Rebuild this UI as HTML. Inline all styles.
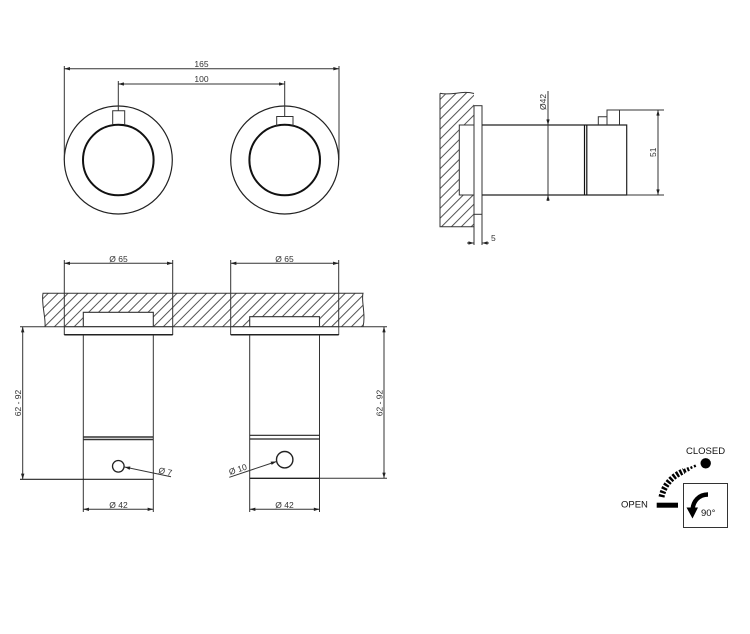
<!DOCTYPE html>
<html><head><meta charset="utf-8"><style>
html,body{margin:0;padding:0;background:#fff}
svg{display:block}
text{font-family:"Liberation Sans",sans-serif;font-size:8.5px;fill:#333}
.l{stroke:#333;stroke-width:1;fill:none}
.m{stroke:#222;stroke-width:1.2;fill:none}
.t{stroke:#111;stroke-width:2;fill:none}
.w{fill:#fff;stroke:#333;stroke-width:1.1}
</style></head><body>
<svg width="750" height="634" viewBox="0 0 750 634" xmlns="http://www.w3.org/2000/svg">
<defs>
<pattern id="h" patternUnits="userSpaceOnUse" width="7" height="7" patternTransform="rotate(-45)">
<rect width="7" height="7" fill="#fff"/><line x1="0" y1="3.5" x2="7" y2="3.5" stroke="#555" stroke-width="1"/></pattern>
<marker id="a" viewBox="0 0 10 6" refX="10" refY="3" markerWidth="6.5" markerHeight="3.4" orient="auto-start-reverse" markerUnits="userSpaceOnUse"><path d="M0 0L10 3L0 6z" fill="#222"/></marker>
</defs>

<!-- top view -->
<circle class="m" cx="118.3" cy="160" r="54"/>
<circle class="t" cx="118.3" cy="160" r="35.3"/>
<circle class="m" cx="284.7" cy="160" r="54"/>
<circle class="t" cx="284.7" cy="160" r="35.3"/>
<path class="l" d="M112.7 125V110.7H124.7V125M276.7 126V116.5H293V126"/>
<path class="l" d="M64.3 66V160M339 66V160M118.3 81V110.7M284.7 81V116"/>
<path class="l" d="M64.3 68.7H339" marker-start="url(#a)" marker-end="url(#a)"/>
<path class="l" d="M118.3 84H284.7" marker-start="url(#a)" marker-end="url(#a)"/>
<text x="201.5" y="67" text-anchor="middle">165</text>
<text x="201.5" y="82" text-anchor="middle">100</text>

<!-- side view -->
<path d="M440 93.3C452 96 462 90 474 93.5V226.7H440Z" fill="url(#h)"/>
<path class="l" d="M440 93.3C452 96 462 90 474 93.5M440 93.3V226.7H474"/>
<rect x="459.3" y="125" width="22" height="70" fill="#fff"/>
<path class="l" d="M474 125H459.3V195H474"/>
<rect class="l" x="474" y="105.7" width="8" height="108.6" style="fill:#fff"/>
<path class="m" d="M482 125H626.7V195H482"/>
<path class="t" d="M584.5 125V195" style="stroke-width:1.2"/>
<path class="t" d="M586.8 125V195" style="stroke-width:1.2"/>
<path class="l" d="M598.3 125V116.7H607M607 125V110H619.5V125"/>
<path class="l" d="M619.5 110H664M626.7 195H664"/>
<path class="l" d="M658 110V195" marker-start="url(#a)" marker-end="url(#a)"/>
<path class="l" d="M548 91V125"/>
<path class="l" d="M548 118V125" marker-end="url(#a)"/>
<path class="l" d="M548 125V195"/>
<path class="l" d="M548 201V195" marker-end="url(#a)"/>
<text transform="translate(546,110) rotate(-90)">Ø42</text>
<text transform="translate(656,157) rotate(-90)">51</text>
<path class="l" d="M474 214V245M482 214V245"/>
<path class="l" d="M467 243H474" marker-end="url(#a)"/>
<path class="l" d="M489 243H482" marker-end="url(#a)"/>
<text x="491" y="241">5</text>

<!-- front section: wall -->
<path d="M43 293.3H363C361 300 366 315 363 326.7H45C46 318 41 303 43 293.3Z" fill="url(#h)"/>
<path class="l" d="M45 326.7C46 318 41 303 43 293.3H363C361 300 366 315 363 326.7"/>
<path class="l" d="M20 326.7H83.3M153.3 326.7H249.7M319.5 326.7H387"/>

<!-- left unit -->
<path class="w" d="M83.3 326.7V312.3H153.3V326.7Z"/>
<path class="l" d="M64.3 260V335M172.7 260V335"/>
<rect x="65" y="327.2" width="107" height="7.3" fill="#fff"/>
<path class="l" d="M64.3 326.7H172.7"/>
<path class="m" d="M64.3 334.7H172.7" style="stroke-width:1.5"/>
<path class="l" d="M83.3 335V512M153.3 335V512"/>
<path class="l" d="M83.3 437H153.3" style="stroke-width:1.4"/>
<path class="l" d="M83.3 439.5H153.3" style="stroke-width:1.4"/>
<path class="m" d="M20 479.3H153.3"/>
<circle class="m" cx="118.3" cy="466.3" r="5.8" style="stroke-width:1.3"/>
<path class="l" d="M171 476.7L124.5 467" marker-end="url(#a)"/>
<text transform="translate(158,473) rotate(12)">Ø 7</text>
<path class="l" d="M64.3 263.3H172.7" marker-start="url(#a)" marker-end="url(#a)"/>
<text x="118.5" y="262" text-anchor="middle">Ø 65</text>
<path class="l" d="M83.3 509.3H153.3" marker-start="url(#a)" marker-end="url(#a)"/>
<text x="118.5" y="508" text-anchor="middle">Ø 42</text>
<path class="l" d="M22.7 326.7V479.3" marker-start="url(#a)" marker-end="url(#a)"/>
<text transform="translate(21,403) rotate(-90)" text-anchor="middle">62 - 92</text>

<!-- right unit -->
<path class="w" d="M249.7 326.7V316.7H319.5V326.7Z"/>
<path class="l" d="M230.7 260V335M338.7 260V335"/>
<rect x="231.3" y="327.2" width="107" height="7.3" fill="#fff"/>
<path class="l" d="M230.7 326.7H338.7"/>
<path class="m" d="M230.7 334.7H338.7" style="stroke-width:1.5"/>
<path class="l" d="M249.7 335V512M319.5 335V512"/>
<path class="m" d="M249.7 435.3H319.5M249.7 439H319.5"/>
<path class="m" d="M249.7 478.3H319.5" style="stroke-width:1.4"/>
<path class="l" d="M319.5 478.3H387"/>
<circle class="m" cx="284.7" cy="459.7" r="8.2" style="stroke-width:1.4"/>
<path class="l" d="M229.3 477.3L276.5 461.5" marker-end="url(#a)"/>
<text transform="translate(230,475) rotate(-18)">Ø 10</text>
<path class="l" d="M230.7 263.3H338.7" marker-start="url(#a)" marker-end="url(#a)"/>
<text x="284.5" y="262" text-anchor="middle">Ø 65</text>
<path class="l" d="M249.7 509.3H319.5" marker-start="url(#a)" marker-end="url(#a)"/>
<text x="284.5" y="508" text-anchor="middle">Ø 42</text>
<path class="l" d="M384 326.7V478.3" marker-start="url(#a)" marker-end="url(#a)"/>
<text transform="translate(382.5,403) rotate(-90)" text-anchor="middle">62 - 92</text>

<!-- legend -->
<text x="686" y="454" style="font-size:9.5px;fill:#111">CLOSED</text>
<text x="621" y="507.5" style="font-size:9.5px;fill:#111">OPEN</text>
<circle cx="705.7" cy="463.3" r="5.2" fill="#000"/>
<rect x="656.7" y="502.7" width="21.3" height="5" fill="#000"/>
<path d="M661.5 497C664 485 672 476 684 471" fill="none" stroke="#000" stroke-width="6" stroke-dasharray="2.4 1.5"/>
<path d="M684 471L690 468.5" fill="none" stroke="#000" stroke-width="4" stroke-dasharray="2 1.5"/>
<path d="M690.5 468L696 465.5" fill="none" stroke="#000" stroke-width="2.5" stroke-dasharray="2 1.8"/>
<rect x="683.5" y="483.5" width="44" height="44" fill="#fff" stroke="#333" stroke-width="1"/>
<path d="M708 494.5C699 494.5 693 501 692.5 510" fill="none" stroke="#000" stroke-width="4.4"/>
<path d="M686.5 507.5H698L692.5 518.5Z" fill="#000"/>
<text x="701" y="516" style="font-size:9.5px;fill:#111">90°</text>
</svg>
</body></html>
